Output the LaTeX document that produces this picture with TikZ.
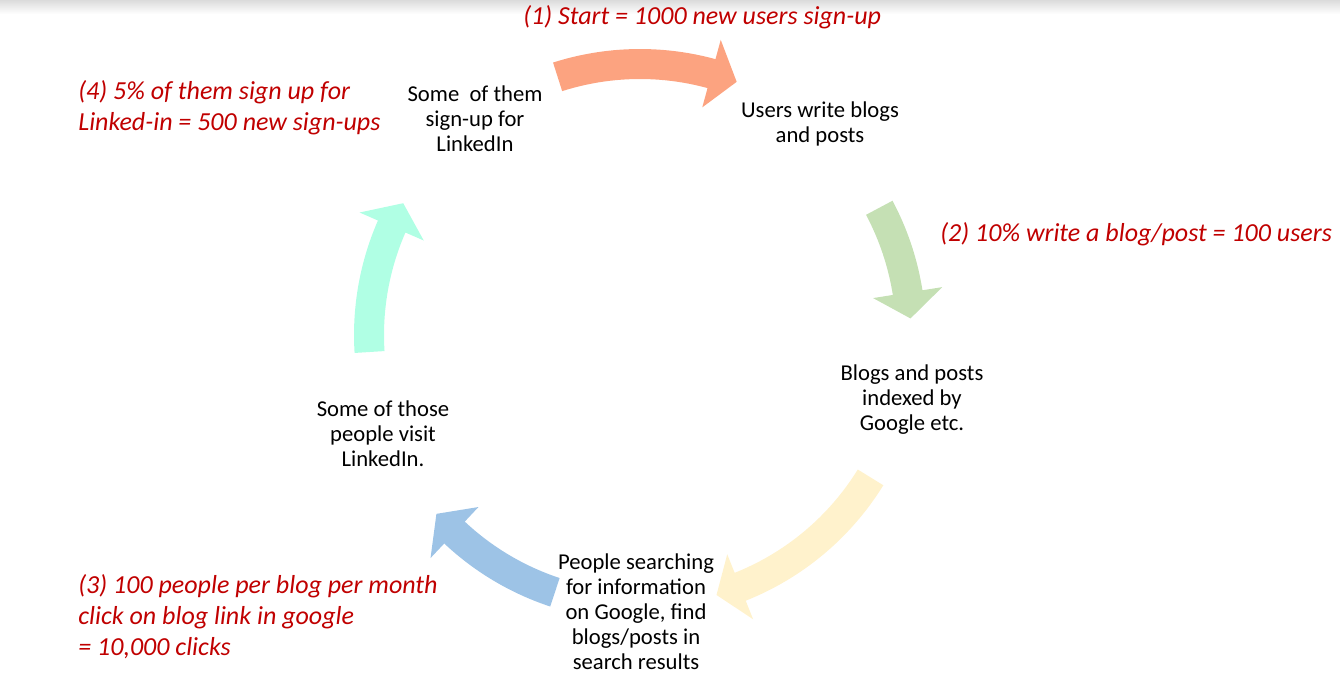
\documentclass[tikz,border=0pt]{standalone}
\usepackage{fontspec}
\setmainfont{Carlito}
\definecolor{notered}{HTML}{C00000}
\definecolor{arrorange}{RGB}{252,163,128}
\definecolor{arrgreen}{RGB}{197,224,180}
\definecolor{arryellow}{RGB}{255,242,204}
\definecolor{arrblue}{RGB}{157,195,230}
\definecolor{arrmint}{RGB}{176,255,228}
\begin{document}
\begin{tikzpicture}[x=0.02cm,y=-0.02cm,
    stage/.style={align=center,font=\fontsize{12.9}{14.2}\selectfont},
    note/.style={text=notered,align=left,anchor=west,inner sep=0pt,font=\fontsize{14.8}{17.6}\selectfont\itshape}]
\useasboundingbox (0,0) rectangle (1340,696);
\shade[top color=black!14,bottom color=white] (0,0) rectangle (1340,14);
% cycle steps
\node[stage] (signup) at (475,119) {Some\ \ of them\\sign-up for\\LinkedIn};
\node[stage] (write) at (820,124) {Users write blogs\\and posts};
\node[stage] (index) at (912,400) {Blogs and posts\\indexed by\\Google etc.};
\node[stage] (search) at (636,612) {People searching\\for information\\on Google, find\\blogs/posts in\\search results};
\node[stage] (visit) at (383,434) {Some of those\\people visit\\LinkedIn.};
% curved block arrows round the centre
\begin{scope}[shift={(640,335)}]
\foreach \clr/\from/\base/\tip in {arrorange/-107.7/-74.7/-69.1, arrgreen/-28/-9/-3.5,
    arryellow/31.7/68.3/73.6, arrblue/108.3/133.2/138.7, arrmint/176.4/203.6/209.1}
  \fill[\clr] plot[domain=\from:\base,samples=25] (\x:286) -- (\base:306) -- (\tip:271)
    -- (\base:236) -- plot[domain=\base:\from,samples=25] (\x:256) -- cycle;
\end{scope}
% numbers
\node[note] (start) at (523,17) {(1) Start = 1000 new users sign-up};
\node[note] (blogs) at (940,234) {(2) 10\% write a blog/post = 100 users};
\node[note] (clicks) at (78,617) {(3) 100 people per blog per month\\click on blog link in google\\= 10,000 clicks};
\node[note] (signups) at (78,108) {(4) 5\% of them sign up for\\Linked-in = 500 new sign-ups};
\end{tikzpicture}
\end{document}
